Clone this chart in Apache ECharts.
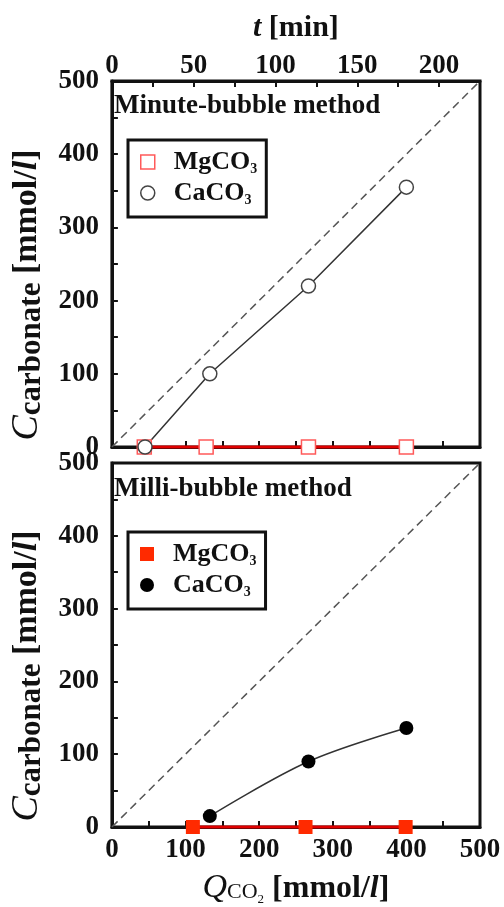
<!DOCTYPE html>
<html>
<head>
<meta charset="utf-8">
<script src="https://cdn.jsdelivr.net/npm/echarts@6/dist/echarts.min.js"></script>
<style>
  html, body { margin: 0; padding: 0; background: #fff; }
  #chart { width: 504px; height: 907px; }
</style>
</head>
<body>
<div id="chart"></div>
<script>
// Carbonate formed versus CO2 supplied, for two bubbling methods.

// Tick labels
const qTickLabels = [0, 100, 200, 300, 400, 500];
const cTickLabels = [0, 100, 200, 300, 400, 500];
const tTickLabels = [0, 50, 100, 150, 200];

// Minute-bubble method (Q in mmol/l, C in mmol/l)
const minuteMgQ = [44, 128, 267, 400];
const minuteMgC = [0, 0, 0, 0];
const minuteCaQ = [45, 133, 267, 400];
const minuteCaC = [0, 100, 220, 355];

// Milli-bubble method
const milliMgQ = [110, 263, 399];
const milliMgC = [0, 0, 0];
const milliCaQ = [133, 267, 400];
const milliCaC = [15, 90, 136];

// Line of complete conversion, C = Q
const identityQ = [0, 500];
const identityC = [0, 500];

const FONT = '"Liberation Serif", "Times New Roman", serif';
const INK = '#111';

const zip = (xs, ys) => xs.map((x, i) => [x, ys[i]]);
const pick = list => v => (list.includes(v) ? String(v) : '');

const tickStyle = { show: true, inside: true, length: 6, lineStyle: { color: INK, width: 2 } };
const lineStyle = { show: true, onZero: false, lineStyle: { color: INK, width: 3 } };
const labelStyle = { fontFamily: FONT, fontSize: 27, fontWeight: 'bold', color: INK };

const yName = '{C|C}{s|carbonate}{u| [mmol/}{l|l}{u|]}{pad|}';
const yNameStyle = {
  fontFamily: FONT, color: INK,
  rich: {
    C: { fontFamily: FONT, fontSize: 38, fontStyle: 'italic', color: INK, lineHeight: 40 },
    s: { fontFamily: FONT, fontSize: 31, fontWeight: 'bold', color: INK, padding: [10, 0, 0, 0] },
    u: { fontFamily: FONT, fontSize: 34, fontWeight: 'bold', color: INK },
    l: { fontFamily: FONT, fontSize: 34, fontWeight: 'bold', fontStyle: 'italic', color: INK },
    pad: { width: 62 }
  }
};

function cAxis(gridIndex) {
  return {
    type: 'value', gridIndex, position: 'left', min: 0, max: 500, interval: 50,
    axisLine: lineStyle, axisTick: tickStyle, splitLine: { show: false },
    axisLabel: Object.assign({ margin: 13, formatter: pick(cTickLabels) }, labelStyle),
    name: yName, nameLocation: 'middle', nameRotate: 90, nameGap: 64, nameTextStyle: yNameStyle
  };
}

const legendRich = {
  m: { fontFamily: FONT, fontSize: 26, fontWeight: 'bold', color: INK, lineHeight: 28, padding: [0, 0, 0, 14] },
  sub: { fontFamily: FONT, fontSize: 14, fontWeight: 'bold', color: INK, lineHeight: 10, verticalAlign: 'bottom' }
};
const legendText = {
  'MgCO3 (minute)': '{m|MgCO}{sub|3}',
  'CaCO3 (minute)': '{m|CaCO}{sub|3}',
  'MgCO3 (milli)': '{m|MgCO}{sub|3}',
  'CaCO3 (milli)': '{m|CaCO}{sub|3}'
};
function legendBox(top, items) {
  return {
    orient: 'vertical', left: 128, top, selectedMode: false,
    padding: [9, 9, 10, 12], itemGap: 4, itemWidth: 14, itemHeight: 14,
    borderColor: INK, borderWidth: 3,
    formatter: name => legendText[name],
    textStyle: { fontFamily: FONT, fontSize: 26, rich: legendRich },
    data: items
  };
}

const chart = echarts.init(document.getElementById('chart'), null, { renderer: 'canvas' });
chart.setOption({
  backgroundColor: '#fff',
  animation: false,
  grid: [
    { left: 104, top: 81, width: 376, height: 366, show: true, borderColor: INK, borderWidth: 3 },
    { left: 104, top: 463, width: 376, height: 368, show: true, borderColor: INK, borderWidth: 3 }
  ],
  title: [
    { text: 'Minute-bubble method', left: 114, top: 93, padding: 0,
      textStyle: { fontFamily: FONT, fontSize: 27, fontWeight: 'bold', color: INK } },
    { text: 'Milli-bubble method', left: 114, top: 476, padding: 0,
      textStyle: { fontFamily: FONT, fontSize: 27, fontWeight: 'bold', color: INK } }
  ],
  legend: [
    legendBox(140, [
      { name: 'MgCO3 (minute)', icon: 'rect', itemStyle: { color: '#fff', borderColor: '#ff5a5a', borderWidth: 1.5 } },
      { name: 'CaCO3 (minute)', icon: 'circle', itemStyle: { color: '#fff', borderColor: '#444', borderWidth: 1.5 } }
    ]),
    legendBox(532, [
      { name: 'MgCO3 (milli)', icon: 'rect', itemStyle: { color: '#ff2a00', borderWidth: 0 } },
      { name: 'CaCO3 (milli)', icon: 'circle', itemStyle: { color: '#000', borderWidth: 0 } }
    ])
  ],
  xAxis: [
    { // Q scale of the upper panel (ticks only)
      type: 'value', gridIndex: 0, position: 'bottom', min: 0, max: 500, interval: 50,
      axisLine: lineStyle, axisTick: tickStyle, axisLabel: { show: false }, splitLine: { show: false }
    },
    { // elapsed time of the upper panel
      type: 'value', gridIndex: 0, position: 'top', min: 0, max: 225, interval: 25,
      axisLine: lineStyle, axisTick: tickStyle, splitLine: { show: false },
      axisLabel: Object.assign({ margin: 1, formatter: pick(tTickLabels) }, labelStyle),
      name: '{t|t}{u| [min]}', nameLocation: 'middle', nameGap: 38,
      nameTextStyle: { rich: {
        t: { fontFamily: FONT, fontSize: 30, fontStyle: 'italic', fontWeight: 'bold', color: INK },
        u: { fontFamily: FONT, fontSize: 30, fontWeight: 'bold', color: INK }
      } }
    },
    { // Q scale of the lower panel
      type: 'value', gridIndex: 1, position: 'bottom', min: 0, max: 500, interval: 50,
      axisLine: lineStyle, axisTick: tickStyle, splitLine: { show: false },
      axisLabel: Object.assign({ margin: 10, formatter: pick(qTickLabels) }, labelStyle),
      name: '{Q|Q}{co|CO}{two|2}{u| [mmol/}{l|l}{u|]}', nameLocation: 'middle', nameGap: 44,
      nameTextStyle: { rich: {
        Q: { fontFamily: FONT, fontSize: 34, fontStyle: 'italic', color: INK },
        co: { fontFamily: FONT, fontSize: 22, color: INK, padding: [8, 0, 0, 0] },
        two: { fontFamily: FONT, fontSize: 13, color: INK, padding: [22, 0, 0, 0] },
        u: { fontFamily: FONT, fontSize: 32, fontWeight: 'bold', color: INK },
        l: { fontFamily: FONT, fontSize: 32, fontWeight: 'bold', fontStyle: 'italic', color: INK }
      } }
    }
  ],
  yAxis: [cAxis(0), cAxis(1)],
  series: [
    // upper panel
    { type: 'line', name: 'identity-minute', xAxisIndex: 0, yAxisIndex: 0, data: zip(identityQ, identityC),
      showSymbol: false, silent: true, lineStyle: { color: '#555', width: 1.5, type: [8, 5] } },
    { type: 'line', name: 'MgCO3 (minute)', xAxisIndex: 0, yAxisIndex: 0, data: zip(minuteMgQ, minuteMgC),
      clip: false, symbol: 'rect', symbolSize: 14,
      itemStyle: { color: '#fff', borderColor: '#ff5a5a', borderWidth: 1.5 },
      lineStyle: { color: '#e00000', width: 3 } },
    { type: 'line', name: 'CaCO3 (minute)', xAxisIndex: 0, yAxisIndex: 0, data: zip(minuteCaQ, minuteCaC),
      clip: false, symbol: 'circle', symbolSize: 14,
      itemStyle: { color: '#fff', borderColor: '#444', borderWidth: 1.5 },
      lineStyle: { color: '#333', width: 1.5 } },
    // lower panel
    { type: 'line', name: 'identity-milli', xAxisIndex: 2, yAxisIndex: 1, data: zip(identityQ, identityC),
      showSymbol: false, silent: true, lineStyle: { color: '#555', width: 1.5, type: [8, 5] } },
    { type: 'line', name: 'MgCO3 (milli)', xAxisIndex: 2, yAxisIndex: 1, data: zip(milliMgQ, milliMgC),
      clip: false, symbol: 'rect', symbolSize: 14,
      itemStyle: { color: '#ff2a00', borderWidth: 0 },
      lineStyle: { color: '#e00000', width: 3 } },
    { type: 'line', name: 'CaCO3 (milli)', xAxisIndex: 2, yAxisIndex: 1, data: zip(milliCaQ, milliCaC),
      clip: false, symbol: 'circle', symbolSize: 14, smooth: 0.35,
      itemStyle: { color: '#000', borderWidth: 0 },
      lineStyle: { color: '#333', width: 1.5 } }
  ]
});
</script>
</body>
</html>
